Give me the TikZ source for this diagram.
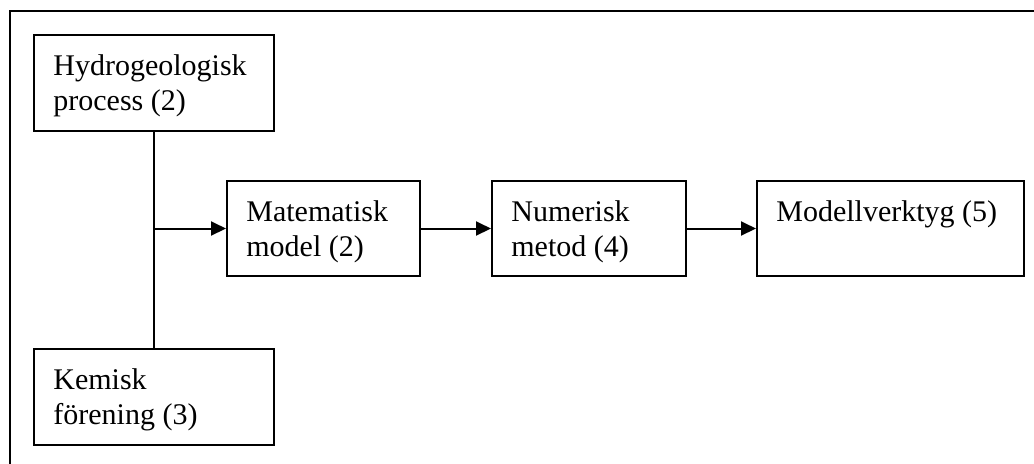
\documentclass[tikz,border=0pt]{standalone}
\usepackage{fontspec}
\setmainfont{Liberation Serif}
\usetikzlibrary{arrows.meta,fit}
\begin{document}
\begin{tikzpicture}[x=0.5pt,y=-0.5pt,
  box/.style={draw,line width=1pt,inner sep=0pt},
  lab/.style={anchor=north west,align=left,inner sep=0pt,xshift=10pt,yshift=-10pt,
    font=\fontsize{15pt}{17.5pt}\selectfont},
  conn/.style={line width=1pt},
  arr/.style={line width=1pt,-{Triangle[length=7.5pt,width=7pt]}}]
\clip (0,0) rectangle (1034,463);
% outer frame (only top and left visible)
\draw[line width=1pt] (9.5,480) -- (9.5,11) -- (1050,11);
\node[box,fit={(34,35) (274,131)},label={[lab]north west:Hydrogeologisk\\process (2)}] (hydro) {};
\node[box,fit={(34,349) (274,445)},label={[lab]north west:Kemisk\\förening (3)}] (kemisk) {};
\node[box,fit={(227,181) (420,276)},label={[lab]north west:Matematisk\\model (2)}] (matem) {};
\node[box,fit={(492,181) (686,276)},label={[lab]north west:Numerisk\\metod (4)}] (numer) {};
\node[box,fit={(757,181) (1024,276)},label={[lab]north west:Modellverktyg (5)}] (modell) {};
\coordinate (j) at (hydro.south |- matem.west);
\draw[conn] (hydro.south) -- (kemisk.north);
\draw[arr] (j) -- (matem.west);
\draw[arr] (matem.east) -- (numer.west);
\draw[arr] (numer.east) -- (modell.west);
\end{tikzpicture}
\end{document}
